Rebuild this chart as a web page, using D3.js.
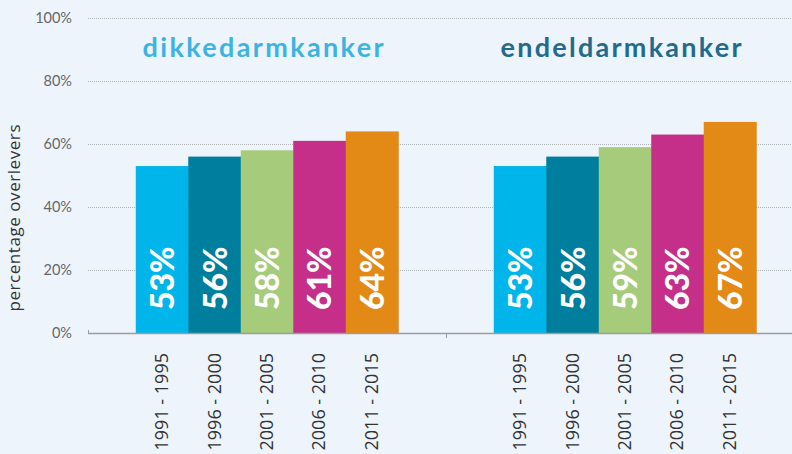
<!DOCTYPE html>
<html>
<head>
<meta charset="utf-8">
<script src="https://cdn.jsdelivr.net/npm/d3@7"></script>
<style>
	body { margin: 0; background: #eef4fc; }
	svg { display: block; }
</style>
</head>
<body>
<svg id="chart" width="792" height="454"></svg>
<script>
// data
const groups = ['dikkedarmkanker', 'endeldarmkanker']
const periods = ['1991 - 1995', '1996 - 2000', '2001 - 2005', '2006 - 2010', '2011 - 2015']
const dikkedarm = [53, 56, 58, 61, 64]
const endeldarm = [53, 56, 59, 63, 67]
const yTicks = [0, 20, 40, 60, 80, 100]

const barColors = ['#00b5e9', '#007e9e', '#a6cb7b', '#c52f89', '#e38916']
const titleColors = ['#3db3e3', '#236b8c']

const svg = d3.select('#chart')

svg.append('rect')
	.attr('width', 792).attr('height', 454)
	.attr('fill', '#eef4fc')

const x0 = 88, x1 = 804
const yTop = 18, yBottom = 333

let y = d3.scaleLinear().domain([0, 100]).range([yBottom, yTop])

let xGroup = d3.scaleBand().domain(groups).range([x0, x1])
let xBar = d3.scaleBand().domain(periods)
	.range([0, xGroup.bandwidth()])
	.paddingInner(0)
	.paddingOuter(0.91)

// gridlines (dotted)
svg.append('g')
	.selectAll('line')
	.data(yTicks.filter(d => d > 0))
	.enter()
	.append('line')
	.attr('x1', x0).attr('x2', 792)
	.attr('y1', d => y(d) + 0.5).attr('y2', d => y(d) + 0.5)
	.attr('stroke', '#b0b3b7')
	.attr('stroke-width', 1)
	.attr('stroke-dasharray', '1,1')

// y tick labels
svg.append('g')
	.selectAll('text')
	.data(yTicks)
	.enter()
	.append('text')
	.attr('x', 72)
	.attr('y', d => y(d) + 5)
	.attr('text-anchor', 'end')
	.attr('font-family', 'Lato, sans-serif')
	.attr('font-size', 14.5)
	.attr('fill', '#666')
	.text(d => d + '%')

// y axis title
svg.append('text')
	.attr('transform', `translate(20,218) rotate(-90)`)
	.attr('text-anchor', 'middle')
	.attr('font-family', '"Open Sans", sans-serif')
	.attr('font-size', 17)
	.attr('textLength', 187)
	.attr('lengthAdjust', 'spacing')
	.attr('fill', '#333')
	.text('percentage overlevers')

const seriesByGroup = { dikkedarmkanker: dikkedarm, endeldarmkanker: endeldarm }

groups.forEach((g, gi) => {
	const gx = xGroup(g)
	const vals = seriesByGroup[g]
	const layer = svg.append('g').attr('transform', `translate(${gx},0)`)

	layer.selectAll('rect')
		.data(vals)
		.enter()
		.append('rect')
		.attr('x', (d, i) => xBar(periods[i]))
		.attr('y', d => y(d))
		.attr('width', xBar.bandwidth() + 0.5)
		.attr('height', d => yBottom - y(d))
		.attr('fill', (d, i) => barColors[i])

	// value labels inside bars
	layer.selectAll('text.val')
		.data(vals)
		.enter()
		.append('text')
		.attr('class', 'val')
		.attr('transform', (d, i) =>
			`translate(${xBar(periods[i]) + xBar.bandwidth() / 2 + 12},310) rotate(-90)`)
		.attr('font-family', 'Lato, sans-serif')
		.attr('font-weight', 900)
		.attr('font-size', 32)
		.attr('fill', '#fff')
		.text(d => d + '%')

	// period labels below axis
	layer.selectAll('text.per')
		.data(periods)
		.enter()
		.append('text')
		.attr('class', 'per')
		.attr('transform', d =>
			`translate(${xBar(d) + xBar.bandwidth() / 2 + 6},353) rotate(-90)`)
		.attr('text-anchor', 'end')
		.attr('font-family', '"Open Sans", sans-serif')
		.attr('font-size', 18)
		.attr('fill', '#333')
		.text(d => d)

	// group title
	layer.append('text')
		.attr('x', xGroup.bandwidth() / 2 - 4)
		.attr('y', 57)
		.attr('text-anchor', 'middle')
		.attr('font-family', 'Lato, sans-serif')
		.attr('font-weight', 700)
		.attr('font-size', 27)
		.attr('textLength', 241)
		.attr('lengthAdjust', 'spacing')
		.attr('fill', titleColors[gi])
		.text(g)
})

// baseline and ticks
svg.append('line')
	.attr('x1', x0).attr('x2', 792)
	.attr('y1', yBottom + 0.5).attr('y2', yBottom + 0.5)
	.attr('stroke', '#9a9da1')
	.attr('stroke-width', 1.5)

svg.append('line')
	.attr('x1', x0 + 0.5).attr('x2', x0 + 0.5)
	.attr('y1', yBottom - 3).attr('y2', yBottom)
	.attr('stroke', '#9a9da1')

svg.append('line')
	.attr('x1', xGroup(groups[1]) + 0.5).attr('x2', xGroup(groups[1]) + 0.5)
	.attr('y1', yBottom).attr('y2', yBottom + 5)
	.attr('stroke', '#9a9da1')
</script>
</body>
</html>
